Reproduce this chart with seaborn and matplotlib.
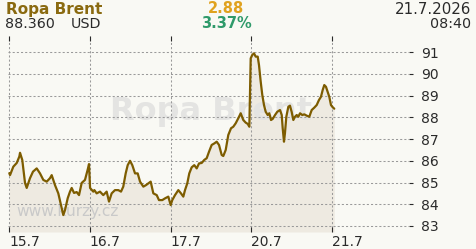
import matplotlib
matplotlib.use("Agg")
import matplotlib.pyplot as plt
import matplotlib.transforms as mtransforms
import pandas as pd
import seaborn as sns

# ---- data -------------------------------------------------------------
day_labels = ["15.7", "16.7", "17.7", "20.7", "21.7"]
y_ticks = [83, 84, 85, 86, 87, 88, 89, 90, 91]

# position in trading days (0 = 15.7, 1 = 16.7, ...)
t = [0.000, 0.009, 0.050, 0.092, 0.125, 0.133, 0.161, 0.195, 0.216, 0.257,
     0.294, 0.340, 0.381, 0.422, 0.464, 0.505, 0.526, 0.567, 0.608, 0.650,
     0.670, 0.691, 0.725, 0.753, 0.774, 0.803, 0.836, 0.865, 0.898, 0.939,
     0.973, 0.989, 1.002, 1.042, 1.055, 1.084, 1.125, 1.166, 1.208, 1.237,
     1.270, 1.311, 1.352, 1.386, 1.414, 1.444, 1.469, 1.498, 1.526, 1.560,
     1.593, 1.622, 1.663, 1.696, 1.725, 1.754, 1.787, 1.829, 1.857, 1.898,
     1.932, 1.973, 2.002, 2.022, 2.056, 2.097, 2.130, 2.159, 2.180, 2.208,
     2.233, 2.263, 2.295, 2.325, 2.354, 2.387, 2.419, 2.449, 2.478, 2.511,
     2.543, 2.573, 2.602, 2.635, 2.655, 2.685, 2.717, 2.751, 2.779, 2.809,
     2.841, 2.871, 2.903, 2.933, 2.958, 2.978, 2.995, 3.015, 3.036, 3.057,
     3.082, 3.098, 3.119, 3.139, 3.160, 3.181, 3.206, 3.226, 3.247, 3.268,
     3.297, 3.325, 3.359, 3.380, 3.392, 3.408, 3.420, 3.437, 3.462, 3.482,
     3.503, 3.524, 3.545, 3.566, 3.586, 3.607, 3.635, 3.660, 3.690, 3.722,
     3.752, 3.784, 3.814, 3.842, 3.867, 3.888, 3.908, 3.929, 3.950, 3.970,
     3.991, 4.012, 4.032]

price = [85.43, 85.34, 85.73, 85.90, 86.20, 86.37, 86.04, 84.98, 84.75, 85.20,
         85.50, 85.65, 85.42, 85.12, 85.04, 85.20, 85.34, 84.88, 84.50, 83.81,
         83.50, 83.73, 84.28, 84.58, 84.75, 84.52, 84.56, 84.42, 84.98, 85.12,
         85.60, 85.85, 84.75, 84.58, 84.65, 84.50, 84.58, 84.42, 84.58, 84.12,
         84.50, 84.65, 84.65, 84.58, 84.81, 85.42, 85.80, 86.00, 85.80, 85.42,
         85.42, 85.04, 84.81, 84.88, 84.96, 85.04, 84.50, 84.42, 84.19, 84.19,
         84.27, 84.35, 83.96, 84.19, 84.42, 84.65, 84.50, 84.35, 84.65, 84.96,
         85.42, 85.70, 85.80, 85.65, 85.88, 85.90, 86.04, 86.12, 86.42, 86.73,
         86.80, 86.88, 86.73, 86.27, 86.22, 86.50, 87.19, 87.50, 87.57, 87.73,
         87.96, 88.19, 87.88, 87.76, 87.70, 87.57, 90.72, 90.88, 90.95, 90.80,
         90.80, 90.41, 89.65, 89.03, 88.57, 88.26, 88.11, 88.19, 87.88, 87.93,
         88.11, 88.26, 88.34, 88.11, 87.50, 86.88, 87.27, 88.03, 88.49, 88.54,
         88.26, 87.88, 88.03, 88.11, 88.03, 88.19, 88.11, 88.14, 88.08, 88.03,
         88.34, 88.45, 88.57, 88.80, 88.95, 89.26, 89.49, 89.41, 89.18, 88.95,
         88.57, 88.47, 88.40]

title = "Ropa Brent"
last_price = "88.360"
currency = "USD"
change_abs = "2.88"
change_pct = "3.37%"
date_str = "21.7.2026"
time_str = "08:40"
site = "www.kurzy.cz"

# ---- style ------------------------------------------------------------
bg = "#f9f9f4"
fill_c = "#eeeae1"
line_c = "#7d5c00"
grid_c = "#9a9a9a"
txt_c = "#2a2a2a"

sns.set_style("white", {"axes.facecolor": bg, "figure.facecolor": bg})
plt.rcParams["font.family"] = ["DejaVu Sans"]

W, H = 476, 249
fig = plt.figure(figsize=(W / 100, H / 100), dpi=100)
fig.patch.set_facecolor(bg)

L_px, R_px, T_px, B_px = 8.0, 409.0, 36.0, 232.0
ax = fig.add_axes([L_px / W, (H - B_px) / H, (R_px - L_px) / W, (B_px - T_px) / H])
ax.set_facecolor(bg)

px_per_day = 80.6
x0 = -(9.3 - L_px) / px_per_day
x1 = (R_px - 9.3) / px_per_day
y0, y1 = 82.72, 91.75
ax.set_xlim(x0, x1)
ax.set_ylim(y0, y1)

df = pd.DataFrame({"t": t, "price": price})
ax.fill_between(df["t"], df["price"], y0, color=fill_c, lw=0, zorder=1)
sns.lineplot(data=df, x="t", y="price", ax=ax, color=line_c, lw=1.6,
             estimator=None, sort=False, zorder=4)


def fpx(x, y):
    return x / W, 1 - y / H


# watermarks
ax.text(*fpx(211, 120), title, transform=fig.transFigure, ha="center",
        va="baseline", fontsize=23, fontweight="bold", color="#e4e4e2",
        zorder=1.2, clip_on=False)
ax.text(*fpx(16, 216), site, transform=fig.transFigure, ha="left",
        va="baseline", fontsize=11.2, color="#c9c9c9", zorder=1.2, clip_on=False)

# grid
ax.set_axisbelow("line")
ax.grid(True, color=grid_c, lw=0.75, ls=(0, (2, 2)))

# ticks
ax.set_xticks(range(len(day_labels)))
ax.set_xticklabels(day_labels, ha="left")
off = mtransforms.ScaledTranslation(5 / 100, 0, fig.dpi_scale_trans)
for lbl in ax.get_xticklabels():
    lbl.set_transform(lbl.get_transform() + off)
ax.tick_params(axis="x", direction="in", length=3.5, width=0.8, top=True,
               bottom=True, pad=2.5, labelsize=10, colors=txt_c)
ax.yaxis.tick_right()
ax.set_yticks(y_ticks)
ax.set_yticklabels([str(v) for v in y_ticks])
ax.tick_params(axis="y", direction="out", length=2.6, width=0.8, left=False,
               right=True, pad=6, labelsize=10, colors=txt_c)
ax.set_xlabel("")
ax.set_ylabel("")
for s in ax.spines.values():
    s.set_visible(False)

# header
fig.text(*fpx(5.5, 14), title, ha="left", va="baseline", fontsize=11,
         fontweight="bold", color="#8a6a10")
fig.text(*fpx(5.5, 28.3), last_price, ha="left", va="baseline", fontsize=10.3,
         color=txt_c)
fig.text(*fpx(71, 28.3), currency, ha="left", va="baseline", fontsize=10.3,
         color=txt_c)
fig.text(*fpx(226, 12.7), change_abs, ha="center", va="baseline", fontsize=10.5,
         fontweight="bold", color="#e0a21e")
fig.text(*fpx(226, 28), change_pct, ha="center", va="baseline", fontsize=10.5,
         fontweight="bold", color="#2f9a6a")
fig.text(*fpx(471, 13.5), date_str, ha="right", va="baseline", fontsize=10.8,
         color=txt_c)
fig.text(*fpx(471, 28), time_str, ha="right", va="baseline", fontsize=10.3,
         color=txt_c)

fig.savefig("out.png", dpi=100, facecolor=bg)
